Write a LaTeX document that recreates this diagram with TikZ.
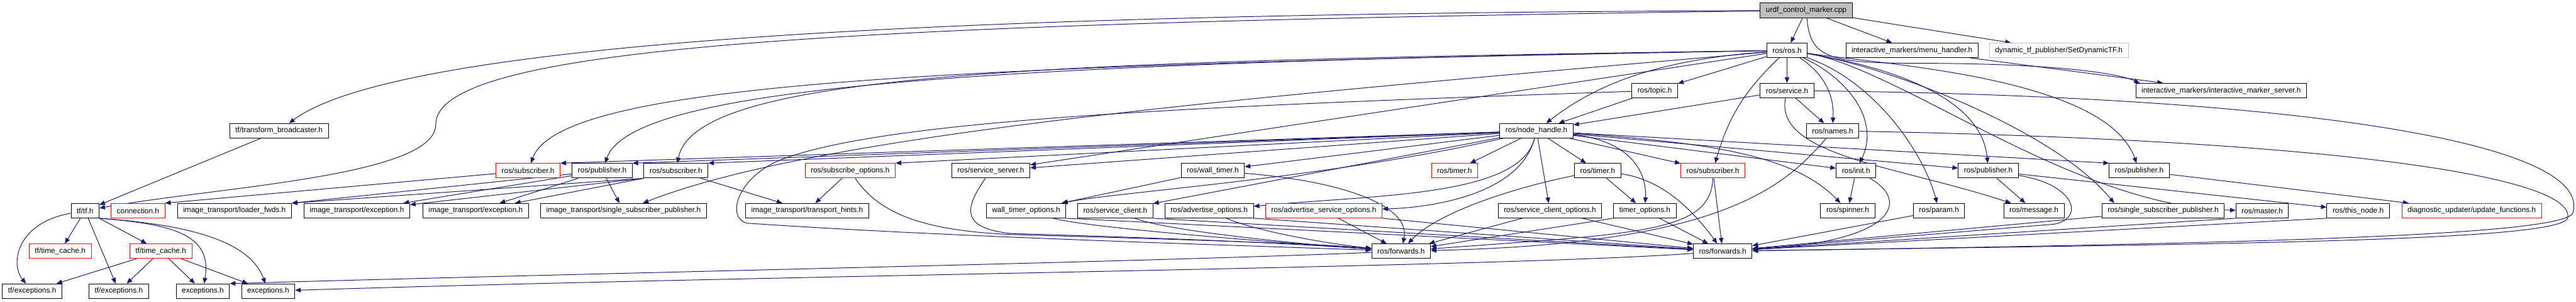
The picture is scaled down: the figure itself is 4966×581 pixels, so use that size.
\documentclass[tikz,border=0pt]{standalone}
\usepackage{fontspec}
\setmainfont{Liberation Sans}
\usepackage{xcolor}
\usepackage{tikz}
\usetikzlibrary{arrows.meta,backgrounds}

\definecolor{navy}{RGB}{25,25,112}
\definecolor{grey75}{RGB}{191,191,191}

\tikzset{
  hdr/.style={draw=black, fill=white, line width=0.3pt, inner xsep=2.75pt, inner ysep=0pt,
    minimum height=7pt, font=\fontsize{3.6pt}{4pt}\selectfont},
  hdrred/.style={hdr, draw=red},
  hdrgrey/.style={hdr, draw=grey75},
  hdrroot/.style={hdr, fill=grey75},
  inc/.style={draw=navy, line width=0.3pt, -{Triangle[length=2.7pt,width=2.2pt]}}
}

\begin{document}
\begin{tikzpicture}[x=0.25pt, y=-0.25pt]
  \useasboundingbox (0,0) rectangle (4966,581);
  % Source file and first includes
  \node[hdrroot] (root) at (3482,20) {urdf\_control\_marker.cpp};
  \node[hdr] (ros) at (3445,97) {ros/ros.h};
  \node[hdr] (menu) at (3686,97) {interactive\_markers/menu\_handler.h};
  \node[hdrgrey] (dyntf) at (3969,97) {dynamic\_tf\_publisher/SetDynamicTF.h};
  \node[hdr] (topic) at (3190,174.5) {ros/topic.h};
  \node[hdr] (service) at (3445,174.5) {ros/service.h};
  \node[hdr] (ims) at (4282,174.5) {interactive\_markers/interactive\_marker\_server.h};
  \node[hdr] (tfbc) at (538,252) {tf/transform\_broadcaster.h};
  \node[hdr] (nh) at (2962,252) {ros/node\_handle.h};
  \node[hdr] (names) at (3533,252) {ros/names.h};
  % Row E
  \node[hdrred] (subA) at (1018,329) {ros/subscriber.h};
  \node[hdr] (pubA) at (1161,329) {ros/publisher.h};
  \node[hdr] (subB) at (1303,329) {ros/subscriber.h};
  \node[hdrred] (subopts) at (1639,329) {ros/subscribe\_options.h};
  \node[hdr] (srvsrv) at (1910,329) {ros/service\_server.h};
  \node[hdr] (wtimer) at (2338,329) {ros/wall\_timer.h};
  \node[hdrred] (timerA) at (2804,329) {ros/timer.h};
  \node[hdr] (timerB) at (3080,329) {ros/timer.h};
  \node[hdrred] (subC) at (3302,329) {ros/subscriber.h};
  \node[hdr] (init) at (3578,329) {ros/init.h};
  \node[hdr] (pubB) at (3833,329) {ros/publisher.h};
  \node[hdr] (pubC) at (4124,329) {ros/publisher.h};
  % Row F
  \node[hdr] (tftf) at (164,406) {tf/tf.h};
  \node[hdrred] (conn) at (266,406) {connection.h};
  \node[hdr] (loader) at (452,406) {image\_transport/loader\_fwds.h};
  \node[hdr] (itexA) at (688,406) {image\_transport/exception.h};
  \node[hdr] (itexB) at (917,406) {image\_transport/exception.h};
  \node[hdr] (itssp) at (1202,406) {image\_transport/single\_subscriber\_publisher.h};
  \node[hdr] (hints) at (1556,406) {image\_transport/transport\_hints.h};
  \node[hdr] (wtopts) at (1978,406) {wall\_timer\_options.h};
  \node[hdr] (svcclient) at (2150,406) {ros/service\_client.h};
  \node[hdr] (advopts) at (2331,406) {ros/advertise\_options.h};
  \node[hdrred] (advsrv) at (2552,406) {ros/advertise\_service\_options.h};
  \node[hdr] (svccopts) at (2988,406) {ros/service\_client\_options.h};
  \node[hdr] (topts) at (3171,406) {timer\_options.h};
  \node[hdr] (spinner) at (3562,406) {ros/spinner.h};
  \node[hdr] (param) at (3738,406) {ros/param.h};
  \node[hdr] (message) at (3921,406) {ros/message.h};
  \node[hdr] (ssp) at (4170,406) {ros/single\_subscriber\_publisher.h};
  \node[hdr] (master) at (4361,406) {ros/master.h};
  \node[hdr] (thisnode) at (4546,406) {ros/this\_node.h};
  \node[hdrred] (diag) at (4765,406) {diagnostic\_updater/update\_functions.h};
  % Rows G and H
  \node[hdrred] (tcA) at (116,484) {tf/time\_cache.h};
  \node[hdrred] (tcB) at (310,484) {tf/time\_cache.h};
  \node[hdr] (fwdA) at (2701,484) {ros/forwards.h};
  \node[hdr] (fwdB) at (3321,484) {ros/forwards.h};
  \node[hdr] (tfexA) at (62,561) {tf/exceptions.h};
  \node[hdr] (tfexB) at (229,561) {tf/exceptions.h};
  \node[hdr] (excA) at (391,561) {exceptions.h};
  \node[hdr] (excB) at (517,561) {exceptions.h};

  \begin{pgfonlayer}{background}
    \fill[white] (0,0) rectangle (4966,581);
    % From the source file
    \draw[inc] (root) -- (ros);
    \draw[inc] (root) -- (menu);
    \draw[inc] (root) -- (dyntf);
    \draw[inc] (root) .. controls (2200,25) and (800,55) .. (tfbc);
    \draw[inc] (root) .. controls (1600,45) and (840,90) .. (840,240) .. controls (840,340) and (420,360) .. (tftf);
    \draw[inc] (root) .. controls (3490,110) and (3520,122) .. (3700,122) .. controls (3950,122) and (4080,140) .. ([xshift=2pt]ims.north west);
    \draw[inc] (menu) -- (ims);
    % From ros/ros.h
    \draw[inc] (ros) -- (topic);
    \draw[inc] (ros) -- (service);
    \draw[inc] (ros) to[bend left=30] (names);
    \draw[inc] (ros) .. controls (3200,115) and (3080,160) .. (nh);
    \draw[inc] (ros) to[bend right=15] (subC);
    \draw[inc] (ros) .. controls (3560,150) and (3625,230) .. (init);
    \draw[inc] (ros) .. controls (3620,160) and (3710,300) .. (param);
    \draw[inc] (ros) .. controls (2000,118) and (1340,140) .. (subB);
    \draw[inc] (ros) .. controls (1900,122) and (1220,165) .. (pubA);
    \draw[inc] (ros) .. controls (1800,126) and (1080,160) .. (subA);
    \draw[inc] (ros) -- (srvsrv);
    \draw[inc] (ros) .. controls (2500,180) and (1600,250) .. (itssp);
    \draw[inc] (ros) .. controls (3620,125) and (3820,180) .. (pubB);
    \draw[inc] (ros) .. controls (3640,125) and (4060,150) .. (pubC);
    \draw[inc] (ros) .. controls (3640,128) and (3960,250) .. ([xshift=6pt]ssp.north west);
    \draw[inc] (ros) .. controls (3660,130) and (4000,400) .. (master);
    % From ros/topic.h and ros/service.h
    \draw[inc] (topic) -- (nh);
    \draw[inc] (topic) .. controls (2300,205) and (1700,230) .. (1500,310) .. controls (1420,345) and (1400,420) .. (1440,430) .. controls (1800,455) and (2300,470) .. (fwdA);
    \draw[inc] (service) -- (nh);
    \draw[inc] (service) -- (names);
    \draw[inc] (service) .. controls (3420,300) and (3660,320) .. (message);
    \draw[inc] (service) .. controls (4400,185) and (5000,270) .. (4960,410) .. controls (4945,455) and (4300,470) .. (fwdB);
    \draw[inc] (names) .. controls (4500,270) and (4965,340) .. (4950,420) .. controls (4935,465) and (4300,470) .. (fwdB);
    \draw[inc] (names) .. controls (3440,360) and (3320,470) .. (fwdA);
    % From ros/node_handle.h
    \draw[inc] (nh) -- (timerA);
    \draw[inc] (nh) -- (timerB);
    \draw[inc] (nh) -- (svccopts);
    \draw[inc] (nh) .. controls (2930,375) and (2760,400) .. (advsrv);
    \draw[inc] (nh) .. controls (2930,380) and (2650,375) .. (advopts);
    \draw[inc] (nh) -- (wtimer);
    \draw[inc] (nh) .. controls (2550,345) and (2150,370) .. (wtopts);
    \draw[inc] (nh) -- (svcclient);
    \draw[inc] (nh) -- (srvsrv);
    \draw[inc] (nh) -- (subopts.north east);
    \draw[inc] (nh) -- (subB.north east);
    \draw[inc] (nh) -- (pubA.north east);
    \draw[inc] (nh) -- (subA.north east);
    \draw[inc] (nh) -- (subC);
    \draw[inc] (nh) -- (init);
    \draw[inc] (nh) .. controls (3300,275) and (3460,300) .. (spinner);
    \draw[inc] (nh) .. controls (3130,270) and (3175,320) .. (topts);
    \draw[inc] (nh) -- (pubB);
    \draw[inc] (nh) -- (pubC.north west);
    % Image transport headers
    \draw[inc] (subA) -- (conn.north east);
    \draw[inc] (pubA) -- (loader.north east);
    \draw[inc] (pubA) -- (itexA);
    \draw[inc] (pubA) -- (itexB);
    \draw[inc] (pubA) -- (itssp);
    \draw[inc] (subB.south west) -- (loader.north east);
    \draw[inc] (subB.south west) -- (itexA);
    \draw[inc] (subB.south west) -- (itexB);
    \draw[inc] (subB) -- (hints);
    \draw[inc] (subopts) -- (hints);
    % Down to ros/forwards.h
    \draw[inc] (srvsrv) .. controls (1860,400) and (1850,440) .. (1950,450) .. controls (2300,460) and (2500,470) .. (fwdA);
    \draw[inc] (subopts) .. controls (1700,420) and (1800,445) .. (1950,452) .. controls (2300,462) and (2550,470) .. (fwdA);
    \draw[inc] (wtimer) -- (wtopts);
    \draw[inc] (wtimer) .. controls (2600,350) and (2720,400) .. (fwdA);
    \draw[inc] (wtopts) .. controls (2100,440) and (2500,470) .. (fwdA);
    \draw[inc] (svcclient) .. controls (2250,445) and (2500,470) .. (fwdA);
    \draw[inc] (advopts) .. controls (2420,445) and (2560,470) .. (fwdA);
    \draw[inc] (advsrv) -- (fwdA);
    \draw[inc] (svccopts) -- (fwdA);
    \draw[inc] (timerB) .. controls (2880,370) and (2760,420) .. (fwdA);
    \draw[inc] (topts.south west) -- (fwdA);
    \draw[inc] (subC) .. controls (3300,450) and (3150,450) .. (fwdA);
    \draw[inc] (wtopts.south east) -- (fwdB);
    \draw[inc] (svcclient.south east) -- (fwdB);
    \draw[inc] (advopts.south east) -- (fwdB);
    \draw[inc] (advsrv.south east) -- (fwdB);
    \draw[inc] (svccopts) -- (fwdB);
    \draw[inc] (timerB) -- (topts);
    \draw[inc] (timerB) .. controls (3200,345) and (3260,400) .. (fwdB);
    \draw[inc] (topts) -- (fwdB);
    \draw[inc] (subC) -- (fwdB);
    \draw[inc] (init) -- (spinner);
    \draw[inc] (init) .. controls (3680,385) and (3660,465) .. (fwdB);
    \draw[inc] (param) -- (fwdB);
    \draw[inc] (pubB) -- (message);
    \draw[inc] (pubB) .. controls (4000,355) and (4020,420) .. (3960,432) .. controls (3800,445) and (3500,470) .. (fwdB);
    \draw[inc] (pubB) -- (thisnode);
    \draw[inc] (pubC) -- (diag);
    \draw[inc] (ssp) -- (fwdB);
    \draw[inc] (master.south west) -- (fwdB);
    \draw[inc] (thisnode.south west) -- (fwdB);
    \draw[inc] (fwdA) .. controls (2200,505) and (1200,525) .. (excA.north east);
    \draw[inc] (fwdB) .. controls (2900,515) and (1500,530) .. (excB);
    % tf headers
    \draw[inc] (tfbc) -- (tftf);
    \draw[inc] (tftf) -- (tcA);
    \draw[inc] (tftf) -- (tcB);
    \draw[inc] (tftf) -- (tfexB);
    \draw[inc] (tftf) .. controls (30,430) and (20,510) .. (tfexA);
    \draw[inc] (tftf.south east) .. controls (330,432) and (410,450) .. (excA);
    \draw[inc] (tftf.south east) .. controls (350,432) and (480,460) .. (excB);
    \draw[inc] (tcB) -- (tfexA);
    \draw[inc] (tcB) -- (tfexB);
    \draw[inc] (tcB) -- (excA);
    \draw[inc] (tcB) -- (excB);
  \end{pgfonlayer}
\end{tikzpicture}
\end{document}
